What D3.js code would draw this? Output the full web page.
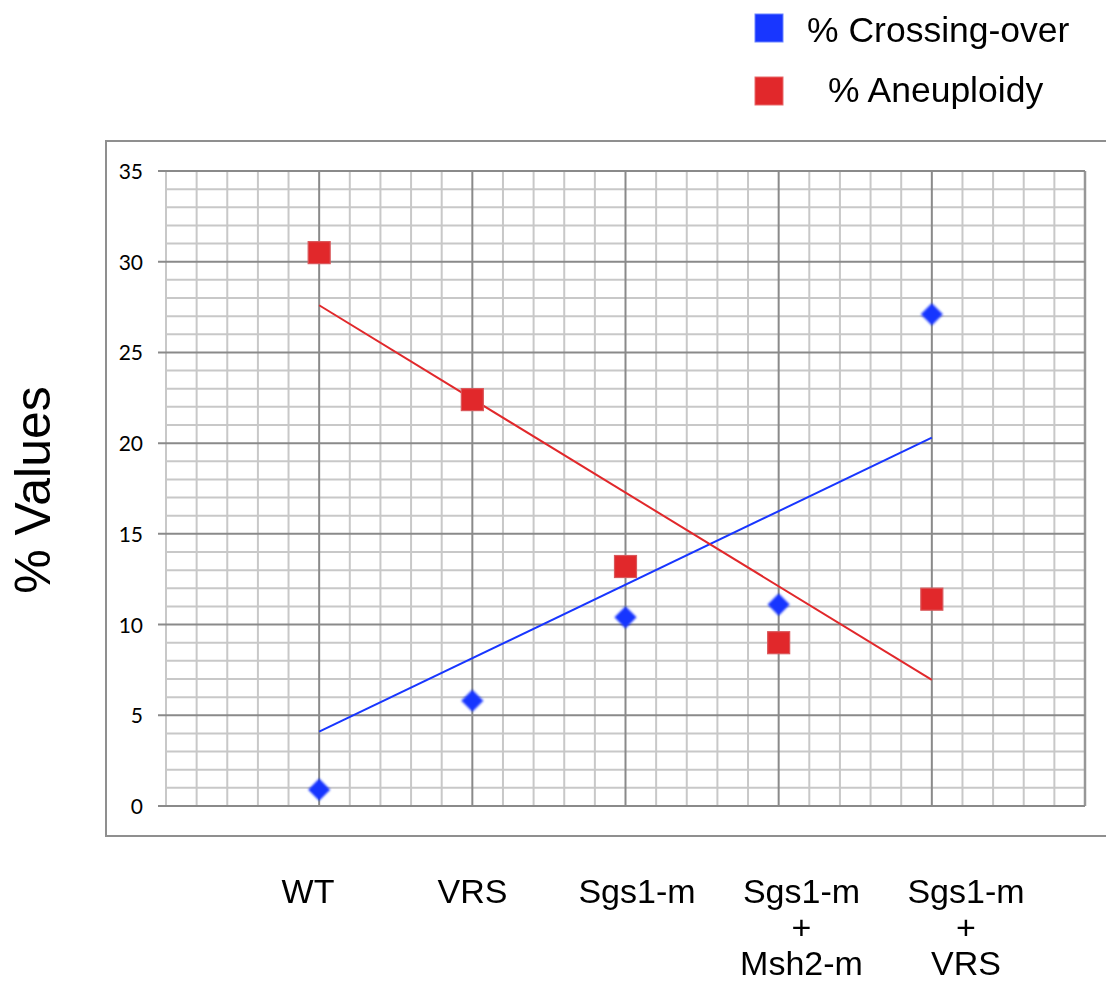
<!DOCTYPE html>
<html>
<head>
<meta charset="utf-8">
<script src="https://cdn.jsdelivr.net/npm/d3@7"></script>
<style>
  html, body { margin: 0; padding: 0; background: #fff; }
  svg { display: block; }
</style>
</head>
<body>
<svg id="chart" width="1106" height="985"></svg>
<script>
// ---- data ----
const categories = [["WT"], ["VRS"], ["Sgs1-m"], ["Sgs1-m", "+", "Msh2-m"], ["Sgs1-m", "+", "VRS"]];
const crossingOver = [0.9, 5.8, 10.4, 11.1, 27.1];
const aneuploidy = [30.5, 22.4, 13.2, 9.0, 11.4];
// trend line values at the first and last category
const crossingTrend = [4.1, 20.3];
const aneuploidyTrend = [27.6, 6.95];
const yTicks = [0, 5, 10, 15, 20, 25, 30, 35];
const seriesNames = ["% Crossing-over", "% Aneuploidy"];
const seriesColors = ["#1836ff", "#e1282b"];

// ---- layout ----
const svg = d3.select("#chart");
const x = d3.scaleLinear().domain([0, 6]).range([166, 1085]);
const y = d3.scaleLinear().domain([0, 35]).range([806, 171]);
const labelX = d3.scaleLinear().domain([1, 5]).range([308, 966]);

const defs = svg.append("defs");
defs.append("filter").attr("id", "soft")
  .attr("x", "-30%").attr("y", "-30%").attr("width", "160%").attr("height", "160%")
  .append("feGaussianBlur").attr("stdDeviation", 1.0);

// outer frame
svg.append("rect")
  .attr("x", 106).attr("y", 141).attr("width", 1020).attr("height", 695)
  .attr("fill", "none").attr("stroke", "#8f8f8f").attr("stroke-width", 2);

const grid = svg.append("g");
// minor horizontal lines (every 1)
const minorY = d3.range(0, 36, 1).filter(v => v % 5 !== 0);
grid.selectAll("line.hmin").data(minorY).join("line")
  .attr("x1", x(0)).attr("x2", x(6))
  .attr("y1", d => y(d)).attr("y2", d => y(d))
  .attr("stroke", "#c8c8c8").attr("stroke-width", 2);
// minor vertical lines (every 0.2)
const minorX = d3.range(0, 30).map(i => i / 5).filter(v => Math.abs(v - Math.round(v)) > 1e-6 || Math.round(v) === 0);
grid.selectAll("line.vmin").data(minorX).join("line")
  .attr("y1", y(0)).attr("y2", y(35))
  .attr("x1", d => x(d)).attr("x2", d => x(d))
  .attr("stroke", "#c8c8c8").attr("stroke-width", 2);
// x = 6 right border (medium)
grid.append("line")
  .attr("y1", y(0)).attr("y2", y(35)).attr("x1", x(6)).attr("x2", x(6))
  .attr("stroke", "#979797").attr("stroke-width", 2.5);
// major vertical lines at categories
grid.selectAll("line.vmaj").data(d3.range(1, 6)).join("line")
  .attr("y1", y(0)).attr("y2", y(35))
  .attr("x1", d => x(d)).attr("x2", d => x(d))
  .attr("stroke", "#8a8a8a").attr("stroke-width", 2);
// major horizontal lines with ticks
grid.selectAll("line.hmaj").data(yTicks).join("line")
  .attr("x1", x(0) - 8).attr("x2", x(6))
  .attr("y1", d => y(d)).attr("y2", d => y(d))
  .attr("stroke", "#8a8a8a").attr("stroke-width", 2);

// y tick labels
svg.append("g").selectAll("text").data(yTicks).join("text")
  .attr("x", 143).attr("y", d => y(d) + 8)
  .attr("text-anchor", "end")
  .attr("font-family", "Lato, 'Open Sans', sans-serif")
  .attr("font-size", 21)
  .attr("fill", "#000")
  .text(d => d);

// y axis title
svg.append("text")
  .attr("transform", "translate(50,490) rotate(-90)")
  .attr("text-anchor", "middle")
  .attr("font-family", "'Liberation Sans', Arial, sans-serif")
  .attr("font-size", 50)
  .attr("fill", "#000")
  .text("% Values");

// trend lines
const trends = [crossingTrend, aneuploidyTrend];
svg.append("g").selectAll("line").data(trends).join("line")
  .attr("x1", x(1)).attr("x2", x(5))
  .attr("y1", d => y(d[0])).attr("y2", d => y(d[1]))
  .attr("stroke", (d, i) => seriesColors[i]).attr("stroke-width", 2);

// red squares
const sq = 22;
svg.append("g").selectAll("rect").data(aneuploidy).join("rect")
  .attr("x", (d, i) => x(i + 1) - sq / 2)
  .attr("y", d => y(d) - sq / 2)
  .attr("width", sq).attr("height", sq)
  .attr("fill", seriesColors[1])
  .attr("stroke", "#d9575a").attr("stroke-width", 1.2);

// blue diamonds
const diamond = d3.symbol().type(d3.symbolSquare).size(245);
svg.append("g").attr("filter", "url(#soft)").selectAll("path").data(crossingOver).join("path")
  .attr("d", diamond)
  .attr("transform", (d, i) => `translate(${x(i + 1)},${y(d)}) rotate(45)`)
  .attr("fill", seriesColors[0]);

// x labels
const xl = svg.append("g")
  .attr("font-family", "'Liberation Sans', Arial, sans-serif")
  .attr("font-size", 34)
  .attr("fill", "#000")
  .attr("text-anchor", "middle");
categories.forEach((lines, i) => {
  const t = xl.append("text").attr("x", labelX(i + 1)).attr("y", 903);
  lines.forEach((ln, j) => {
    t.append("tspan").attr("x", labelX(i + 1)).attr("dy", j === 0 ? 0 : 36).text(ln);
  });
});

// legend
const legend = svg.append("g");
const legendRows = [{ y: 14, tx: 807, base: 42 }, { y: 77, tx: 828, base: 102 }];
seriesNames.forEach((name, i) => {
  legend.append("rect")
    .attr("x", 755).attr("y", legendRows[i].y).attr("width", 28).attr("height", 28)
    .attr("fill", seriesColors[i]).attr("stroke", i === 0 ? "#6b84ff" : "#e86b6c").attr("stroke-width", 1);
  legend.append("text")
    .attr("x", legendRows[i].tx).attr("y", legendRows[i].base)
    .attr("font-family", "'Liberation Sans', Arial, sans-serif")
    .attr("font-size", 35.5)
    .attr("fill", "#000")
    .text(name);
});
</script>
</body>
</html>
